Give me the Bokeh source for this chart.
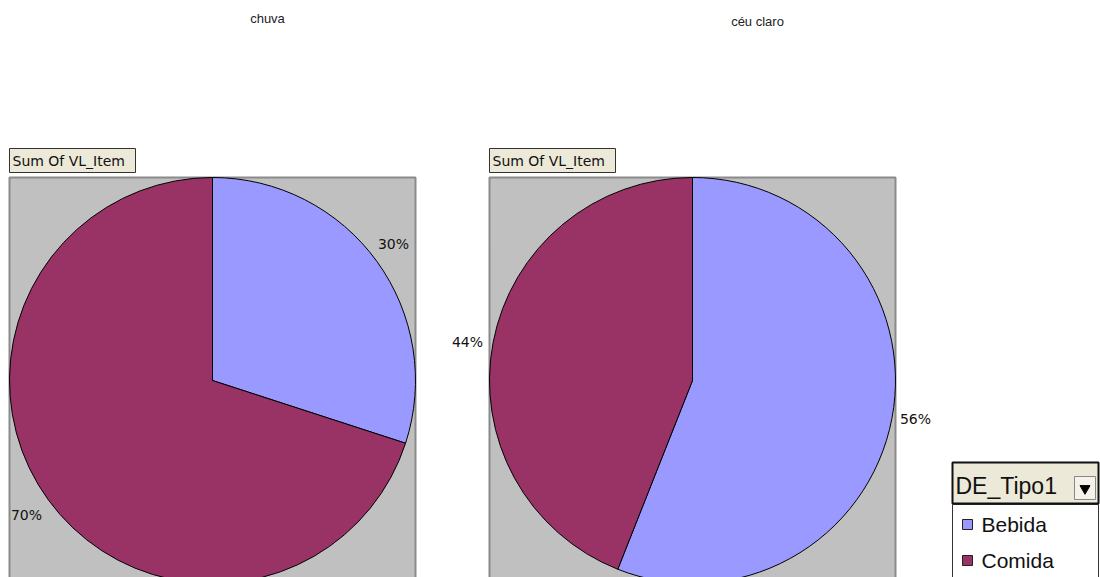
import math
from bokeh.plotting import figure
from bokeh.models import ColumnDataSource, Range1d
from bokeh.core.properties import value
from bokeh.embed import file_html
from bokeh.resources import INLINE

# ---- data ----
categories = ["Bebida", "Comida"]
panel_titles = ["chuva", "céu claro"]
chuva_values = [30, 70]
ceu_claro_values = [56, 44]
series_colors = ["#9999FF", "#993366"]
measure_label = "Sum Of VL_Item"
legend_title = "DE_Tipo1"

W, H = 1100, 577


def X(px):
    return px


def Y(py):
    return H - py


p = figure(width=W, height=H, output_backend="svg", toolbar_location=None,
           x_range=Range1d(0, W), y_range=Range1d(0, H), min_border=0,
           outline_line_color=None, background_fill_color="white",
           border_fill_color="white")
p.axis.visible = False
p.grid.visible = False

FONT = value("Liberation Sans")
FONT2 = value("DejaVu Sans")

panels = [
    dict(title=panel_titles[0], values=chuva_values, left=9, right=415, title_x=267, title_y=18,
         cx=212, cy=380, r=203),
    dict(title=panel_titles[1], values=ceu_claro_values, left=489, right=895, title_x=757, title_y=21,
         cx=692, cy=380, r=203),
]
label_pos = [
    [(393, 243), (26, 514)],
    [(915, 418), (467, 341)],
]

for i, pn in enumerate(panels):
    # plot area
    p.quad(left=X(pn["left"]), right=X(pn["right"]), top=Y(177), bottom=Y(600),
           fill_color="#C0C0C0", line_color="#8A8A8A", line_width=2)
    # measure button
    off = pn["left"] - 9
    p.quad(left=X(9 + off), right=X(135 + off), top=Y(148), bottom=Y(172),
           fill_color="#ECE9D8", line_color="#333333", line_width=1)
    p.text(x=[X(12 + off)], y=[Y(160)], text=[measure_label], text_font=FONT2,
           text_font_size="14px", text_baseline="middle", text_align="left", text_color="#111111")
    # title
    p.text(x=[X(pn["title_x"])], y=[Y(pn["title_y"])], text=[pn["title"]], text_font=FONT,
           text_font_size="13px", text_baseline="middle", text_align="center", text_color="#222222")
    # pie
    vals = pn["values"]
    total = float(sum(vals))
    starts, ends = [], []
    a = math.pi / 2
    for v in vals:
        starts.append(a)
        a = a - 2 * math.pi * v / total
        ends.append(a)
    src = ColumnDataSource(dict(start=starts, end=ends, color=series_colors, cat=categories))
    p.wedge(x=X(pn["cx"]), y=Y(pn["cy"]), radius=pn["r"], start_angle="start", end_angle="end",
            direction="clock", fill_color="color", line_color="black", line_width=1, source=src)
    # labels
    labs = ["%d%%" % round(100 * v / total) for v in vals]
    xs = [X(lp[0]) for lp in label_pos[i]]
    ys = [Y(lp[1]) for lp in label_pos[i]]
    p.text(x=xs, y=ys, text=labs, text_font=FONT2, text_font_size="14px",
           text_baseline="middle", text_align="center", text_color="#111111")

# ---- legend / field button ----
p.quad(left=X(952), right=X(1098), top=Y(504), bottom=Y(600), fill_color="white",
       line_color="#333333", line_width=1)
p.quad(left=X(952), right=X(1098), top=Y(462), bottom=Y(503), fill_color="#ECE9D8",
       line_color="#111111", line_width=2)
p.text(x=[X(955)], y=[Y(485)], text=[legend_title], text_font=FONT, text_font_size="23px",
       text_baseline="middle", text_align="left", text_color="#111111")
p.quad(left=X(1074), right=X(1095), top=Y(476), bottom=Y(499), fill_color="#F4F2EA",
       line_color="#888888", line_width=1)
p.scatter(x=[X(1084.5)], y=[Y(488)], marker="inverted_triangle", size=10, fill_color="black",
          line_color="black")

leg_y = [524, 560]
p.quad(left=[X(962)] * 2, right=[X(972)] * 2, top=[Y(y - 5) for y in leg_y],
       bottom=[Y(y + 5) for y in leg_y], fill_color=series_colors, line_color="#222222")
p.text(x=[X(981)] * 2, y=[Y(y) for y in leg_y], text=categories, text_font=FONT,
       text_font_size="21px", text_baseline="middle", text_align="left", text_color="#111111")

open("out.html", "w").write(file_html(p, INLINE))
